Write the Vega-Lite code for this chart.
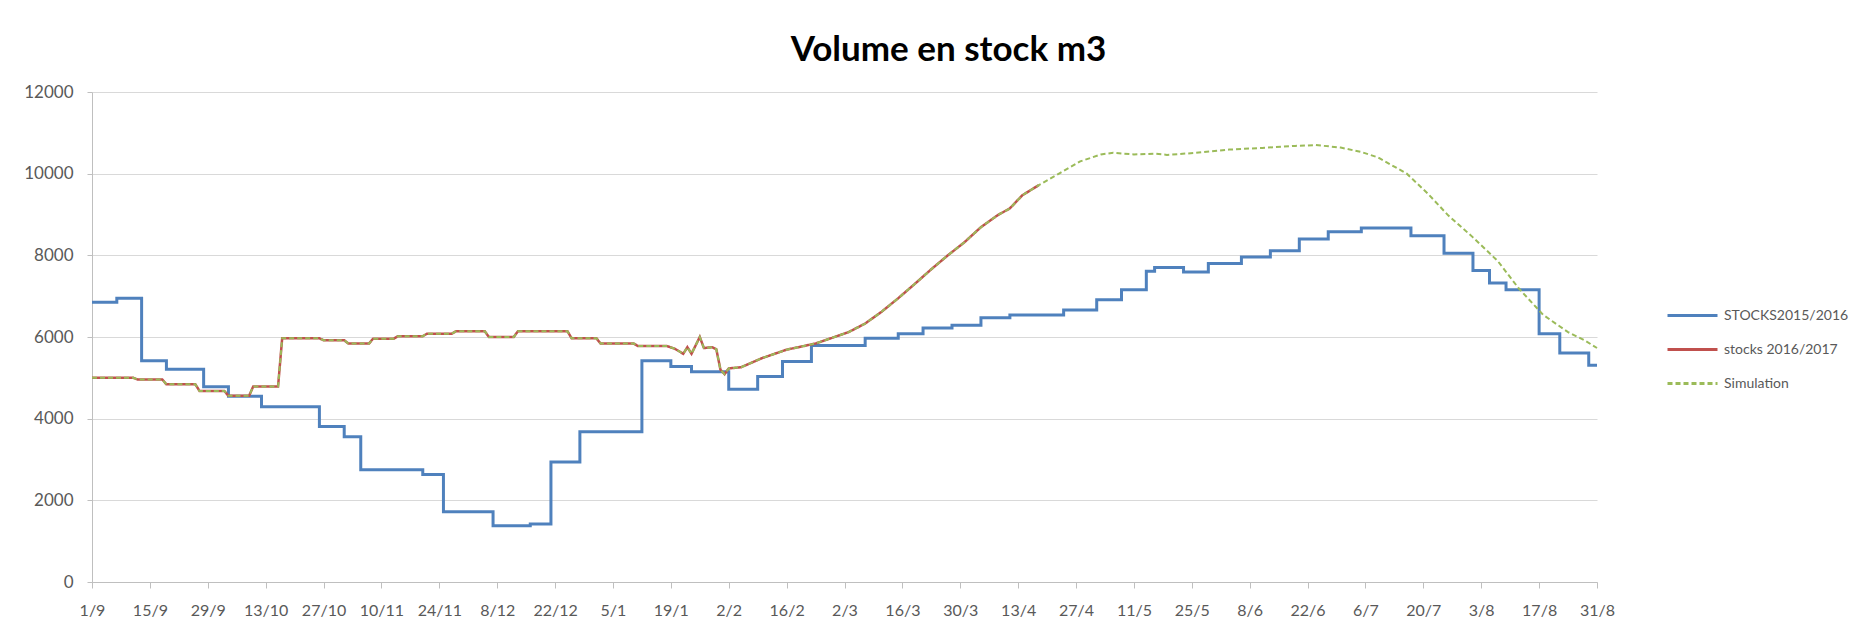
{
  "$schema": "https://vega.github.io/schema/vega-lite/v6.json",
  "width": 1505,
  "height": 490,
  "autosize": {"type": "none"},
  "padding": {"left": 92, "top": 92, "right": 259, "bottom": 46},
  "background": "white",
  "title": {"text": "Volume en stock m3", "font": "Lato", "fontSize": 35, "fontWeight": "bold", "color": "#000000", "anchor": "middle", "dx": 104, "offset": 15},
  "config": {"view": {"stroke": null}},
  "data": {"values": [
    {"date": "2016-09-01", "series": "STOCKS2015/2016", "value": 6850},
    {"date": "2016-09-07", "series": "STOCKS2015/2016", "value": 6950},
    {"date": "2016-09-13", "series": "STOCKS2015/2016", "value": 5420},
    {"date": "2016-09-19", "series": "STOCKS2015/2016", "value": 5210},
    {"date": "2016-09-28", "series": "STOCKS2015/2016", "value": 4780},
    {"date": "2016-10-04", "series": "STOCKS2015/2016", "value": 4550},
    {"date": "2016-10-12", "series": "STOCKS2015/2016", "value": 4290},
    {"date": "2016-10-26", "series": "STOCKS2015/2016", "value": 3810},
    {"date": "2016-11-01", "series": "STOCKS2015/2016", "value": 3560},
    {"date": "2016-11-05", "series": "STOCKS2015/2016", "value": 2750},
    {"date": "2016-11-20", "series": "STOCKS2015/2016", "value": 2630},
    {"date": "2016-11-25", "series": "STOCKS2015/2016", "value": 1720},
    {"date": "2016-12-07", "series": "STOCKS2015/2016", "value": 1380},
    {"date": "2016-12-16", "series": "STOCKS2015/2016", "value": 1420},
    {"date": "2016-12-21", "series": "STOCKS2015/2016", "value": 2940},
    {"date": "2016-12-28", "series": "STOCKS2015/2016", "value": 3680},
    {"date": "2017-01-12", "series": "STOCKS2015/2016", "value": 5420},
    {"date": "2017-01-19", "series": "STOCKS2015/2016", "value": 5280},
    {"date": "2017-01-24", "series": "STOCKS2015/2016", "value": 5150},
    {"date": "2017-02-02", "series": "STOCKS2015/2016", "value": 4720},
    {"date": "2017-02-09", "series": "STOCKS2015/2016", "value": 5030},
    {"date": "2017-02-15", "series": "STOCKS2015/2016", "value": 5400},
    {"date": "2017-02-22", "series": "STOCKS2015/2016", "value": 5790},
    {"date": "2017-03-07", "series": "STOCKS2015/2016", "value": 5970},
    {"date": "2017-03-15", "series": "STOCKS2015/2016", "value": 6080},
    {"date": "2017-03-21", "series": "STOCKS2015/2016", "value": 6220},
    {"date": "2017-03-28", "series": "STOCKS2015/2016", "value": 6290},
    {"date": "2017-04-04", "series": "STOCKS2015/2016", "value": 6470},
    {"date": "2017-04-11", "series": "STOCKS2015/2016", "value": 6540},
    {"date": "2017-04-24", "series": "STOCKS2015/2016", "value": 6660},
    {"date": "2017-05-02", "series": "STOCKS2015/2016", "value": 6910},
    {"date": "2017-05-08", "series": "STOCKS2015/2016", "value": 7160},
    {"date": "2017-05-14", "series": "STOCKS2015/2016", "value": 7610},
    {"date": "2017-05-16", "series": "STOCKS2015/2016", "value": 7700},
    {"date": "2017-05-23", "series": "STOCKS2015/2016", "value": 7590},
    {"date": "2017-05-29", "series": "STOCKS2015/2016", "value": 7800},
    {"date": "2017-06-06", "series": "STOCKS2015/2016", "value": 7960},
    {"date": "2017-06-13", "series": "STOCKS2015/2016", "value": 8110},
    {"date": "2017-06-20", "series": "STOCKS2015/2016", "value": 8400},
    {"date": "2017-06-27", "series": "STOCKS2015/2016", "value": 8580},
    {"date": "2017-07-05", "series": "STOCKS2015/2016", "value": 8670},
    {"date": "2017-07-17", "series": "STOCKS2015/2016", "value": 8480},
    {"date": "2017-07-25", "series": "STOCKS2015/2016", "value": 8050},
    {"date": "2017-08-01", "series": "STOCKS2015/2016", "value": 7630},
    {"date": "2017-08-05", "series": "STOCKS2015/2016", "value": 7320},
    {"date": "2017-08-09", "series": "STOCKS2015/2016", "value": 7160},
    {"date": "2017-08-17", "series": "STOCKS2015/2016", "value": 6080},
    {"date": "2017-08-22", "series": "STOCKS2015/2016", "value": 5610},
    {"date": "2017-08-29", "series": "STOCKS2015/2016", "value": 5310},
    {"date": "2017-08-31", "series": "STOCKS2015/2016", "value": 5310},

    {"date": "2016-09-01", "series": "stocks 2016/2017", "value": 5000},
    {"date": "2016-09-11", "series": "stocks 2016/2017", "value": 5000},
    {"date": "2016-09-12", "series": "stocks 2016/2017", "value": 4960},
    {"date": "2016-09-18", "series": "stocks 2016/2017", "value": 4960},
    {"date": "2016-09-19", "series": "stocks 2016/2017", "value": 4840},
    {"date": "2016-09-26", "series": "stocks 2016/2017", "value": 4840},
    {"date": "2016-09-27", "series": "stocks 2016/2017", "value": 4680},
    {"date": "2016-10-03", "series": "stocks 2016/2017", "value": 4680},
    {"date": "2016-10-04", "series": "stocks 2016/2017", "value": 4560},
    {"date": "2016-10-09", "series": "stocks 2016/2017", "value": 4560},
    {"date": "2016-10-10", "series": "stocks 2016/2017", "value": 4790},
    {"date": "2016-10-16", "series": "stocks 2016/2017", "value": 4790},
    {"date": "2016-10-17", "series": "stocks 2016/2017", "value": 5970},
    {"date": "2016-10-26", "series": "stocks 2016/2017", "value": 5970},
    {"date": "2016-10-27", "series": "stocks 2016/2017", "value": 5920},
    {"date": "2016-11-01", "series": "stocks 2016/2017", "value": 5920},
    {"date": "2016-11-02", "series": "stocks 2016/2017", "value": 5840},
    {"date": "2016-11-07", "series": "stocks 2016/2017", "value": 5840},
    {"date": "2016-11-08", "series": "stocks 2016/2017", "value": 5960},
    {"date": "2016-11-13", "series": "stocks 2016/2017", "value": 5960},
    {"date": "2016-11-14", "series": "stocks 2016/2017", "value": 6020},
    {"date": "2016-11-20", "series": "stocks 2016/2017", "value": 6020},
    {"date": "2016-11-21", "series": "stocks 2016/2017", "value": 6080},
    {"date": "2016-11-27", "series": "stocks 2016/2017", "value": 6080},
    {"date": "2016-11-28", "series": "stocks 2016/2017", "value": 6140},
    {"date": "2016-12-05", "series": "stocks 2016/2017", "value": 6140},
    {"date": "2016-12-06", "series": "stocks 2016/2017", "value": 6000},
    {"date": "2016-12-12", "series": "stocks 2016/2017", "value": 6000},
    {"date": "2016-12-13", "series": "stocks 2016/2017", "value": 6140},
    {"date": "2016-12-25", "series": "stocks 2016/2017", "value": 6140},
    {"date": "2016-12-26", "series": "stocks 2016/2017", "value": 5970},
    {"date": "2017-01-01", "series": "stocks 2016/2017", "value": 5970},
    {"date": "2017-01-02", "series": "stocks 2016/2017", "value": 5840},
    {"date": "2017-01-10", "series": "stocks 2016/2017", "value": 5840},
    {"date": "2017-01-11", "series": "stocks 2016/2017", "value": 5780},
    {"date": "2017-01-18", "series": "stocks 2016/2017", "value": 5780},
    {"date": "2017-01-20", "series": "stocks 2016/2017", "value": 5710},
    {"date": "2017-01-22", "series": "stocks 2016/2017", "value": 5590},
    {"date": "2017-01-23", "series": "stocks 2016/2017", "value": 5750},
    {"date": "2017-01-24", "series": "stocks 2016/2017", "value": 5590},
    {"date": "2017-01-26", "series": "stocks 2016/2017", "value": 6000},
    {"date": "2017-01-27", "series": "stocks 2016/2017", "value": 5730},
    {"date": "2017-01-29", "series": "stocks 2016/2017", "value": 5750},
    {"date": "2017-01-30", "series": "stocks 2016/2017", "value": 5700},
    {"date": "2017-01-31", "series": "stocks 2016/2017", "value": 5200},
    {"date": "2017-02-01", "series": "stocks 2016/2017", "value": 5090},
    {"date": "2017-02-02", "series": "stocks 2016/2017", "value": 5230},
    {"date": "2017-02-05", "series": "stocks 2016/2017", "value": 5260},
    {"date": "2017-02-10", "series": "stocks 2016/2017", "value": 5480},
    {"date": "2017-02-16", "series": "stocks 2016/2017", "value": 5690},
    {"date": "2017-02-23", "series": "stocks 2016/2017", "value": 5840},
    {"date": "2017-02-27", "series": "stocks 2016/2017", "value": 5980},
    {"date": "2017-03-03", "series": "stocks 2016/2017", "value": 6120},
    {"date": "2017-03-07", "series": "stocks 2016/2017", "value": 6330},
    {"date": "2017-03-11", "series": "stocks 2016/2017", "value": 6620},
    {"date": "2017-03-15", "series": "stocks 2016/2017", "value": 6950},
    {"date": "2017-03-19", "series": "stocks 2016/2017", "value": 7300},
    {"date": "2017-03-23", "series": "stocks 2016/2017", "value": 7660},
    {"date": "2017-03-27", "series": "stocks 2016/2017", "value": 8000},
    {"date": "2017-03-31", "series": "stocks 2016/2017", "value": 8320},
    {"date": "2017-04-04", "series": "stocks 2016/2017", "value": 8690},
    {"date": "2017-04-08", "series": "stocks 2016/2017", "value": 8980},
    {"date": "2017-04-11", "series": "stocks 2016/2017", "value": 9150},
    {"date": "2017-04-14", "series": "stocks 2016/2017", "value": 9470},
    {"date": "2017-04-18", "series": "stocks 2016/2017", "value": 9720},

    {"date": "2016-09-01", "series": "Simulation", "value": 5000},
    {"date": "2016-09-11", "series": "Simulation", "value": 5000},
    {"date": "2016-09-12", "series": "Simulation", "value": 4960},
    {"date": "2016-09-18", "series": "Simulation", "value": 4960},
    {"date": "2016-09-19", "series": "Simulation", "value": 4840},
    {"date": "2016-09-26", "series": "Simulation", "value": 4840},
    {"date": "2016-09-27", "series": "Simulation", "value": 4680},
    {"date": "2016-10-03", "series": "Simulation", "value": 4680},
    {"date": "2016-10-04", "series": "Simulation", "value": 4560},
    {"date": "2016-10-09", "series": "Simulation", "value": 4560},
    {"date": "2016-10-10", "series": "Simulation", "value": 4790},
    {"date": "2016-10-16", "series": "Simulation", "value": 4790},
    {"date": "2016-10-17", "series": "Simulation", "value": 5970},
    {"date": "2016-10-26", "series": "Simulation", "value": 5970},
    {"date": "2016-10-27", "series": "Simulation", "value": 5920},
    {"date": "2016-11-01", "series": "Simulation", "value": 5920},
    {"date": "2016-11-02", "series": "Simulation", "value": 5840},
    {"date": "2016-11-07", "series": "Simulation", "value": 5840},
    {"date": "2016-11-08", "series": "Simulation", "value": 5960},
    {"date": "2016-11-13", "series": "Simulation", "value": 5960},
    {"date": "2016-11-14", "series": "Simulation", "value": 6020},
    {"date": "2016-11-20", "series": "Simulation", "value": 6020},
    {"date": "2016-11-21", "series": "Simulation", "value": 6080},
    {"date": "2016-11-27", "series": "Simulation", "value": 6080},
    {"date": "2016-11-28", "series": "Simulation", "value": 6140},
    {"date": "2016-12-05", "series": "Simulation", "value": 6140},
    {"date": "2016-12-06", "series": "Simulation", "value": 6000},
    {"date": "2016-12-12", "series": "Simulation", "value": 6000},
    {"date": "2016-12-13", "series": "Simulation", "value": 6140},
    {"date": "2016-12-25", "series": "Simulation", "value": 6140},
    {"date": "2016-12-26", "series": "Simulation", "value": 5970},
    {"date": "2017-01-01", "series": "Simulation", "value": 5970},
    {"date": "2017-01-02", "series": "Simulation", "value": 5840},
    {"date": "2017-01-10", "series": "Simulation", "value": 5840},
    {"date": "2017-01-11", "series": "Simulation", "value": 5780},
    {"date": "2017-01-18", "series": "Simulation", "value": 5780},
    {"date": "2017-01-20", "series": "Simulation", "value": 5710},
    {"date": "2017-01-22", "series": "Simulation", "value": 5590},
    {"date": "2017-01-23", "series": "Simulation", "value": 5750},
    {"date": "2017-01-24", "series": "Simulation", "value": 5590},
    {"date": "2017-01-26", "series": "Simulation", "value": 6000},
    {"date": "2017-01-27", "series": "Simulation", "value": 5730},
    {"date": "2017-01-29", "series": "Simulation", "value": 5750},
    {"date": "2017-01-30", "series": "Simulation", "value": 5700},
    {"date": "2017-01-31", "series": "Simulation", "value": 5200},
    {"date": "2017-02-01", "series": "Simulation", "value": 5090},
    {"date": "2017-02-02", "series": "Simulation", "value": 5230},
    {"date": "2017-02-05", "series": "Simulation", "value": 5260},
    {"date": "2017-02-10", "series": "Simulation", "value": 5480},
    {"date": "2017-02-16", "series": "Simulation", "value": 5690},
    {"date": "2017-02-23", "series": "Simulation", "value": 5840},
    {"date": "2017-02-27", "series": "Simulation", "value": 5980},
    {"date": "2017-03-03", "series": "Simulation", "value": 6120},
    {"date": "2017-03-07", "series": "Simulation", "value": 6330},
    {"date": "2017-03-11", "series": "Simulation", "value": 6620},
    {"date": "2017-03-15", "series": "Simulation", "value": 6950},
    {"date": "2017-03-19", "series": "Simulation", "value": 7300},
    {"date": "2017-03-23", "series": "Simulation", "value": 7660},
    {"date": "2017-03-27", "series": "Simulation", "value": 8000},
    {"date": "2017-03-31", "series": "Simulation", "value": 8320},
    {"date": "2017-04-04", "series": "Simulation", "value": 8690},
    {"date": "2017-04-08", "series": "Simulation", "value": 8980},
    {"date": "2017-04-11", "series": "Simulation", "value": 9150},
    {"date": "2017-04-14", "series": "Simulation", "value": 9470},
    {"date": "2017-04-18", "series": "Simulation", "value": 9720},
    {"date": "2017-04-23", "series": "Simulation", "value": 10010},
    {"date": "2017-04-28", "series": "Simulation", "value": 10300},
    {"date": "2017-05-03", "series": "Simulation", "value": 10470},
    {"date": "2017-05-06", "series": "Simulation", "value": 10510},
    {"date": "2017-05-11", "series": "Simulation", "value": 10470},
    {"date": "2017-05-16", "series": "Simulation", "value": 10490},
    {"date": "2017-05-19", "series": "Simulation", "value": 10460},
    {"date": "2017-05-26", "series": "Simulation", "value": 10510},
    {"date": "2017-06-03", "series": "Simulation", "value": 10590},
    {"date": "2017-06-11", "series": "Simulation", "value": 10630},
    {"date": "2017-06-19", "series": "Simulation", "value": 10680},
    {"date": "2017-06-24", "series": "Simulation", "value": 10700},
    {"date": "2017-06-30", "series": "Simulation", "value": 10640},
    {"date": "2017-07-05", "series": "Simulation", "value": 10530},
    {"date": "2017-07-09", "series": "Simulation", "value": 10400},
    {"date": "2017-07-16", "series": "Simulation", "value": 10000},
    {"date": "2017-07-21", "series": "Simulation", "value": 9520},
    {"date": "2017-07-26", "series": "Simulation", "value": 8980},
    {"date": "2017-08-01", "series": "Simulation", "value": 8440},
    {"date": "2017-08-07", "series": "Simulation", "value": 7860},
    {"date": "2017-08-12", "series": "Simulation", "value": 7200},
    {"date": "2017-08-18", "series": "Simulation", "value": 6540},
    {"date": "2017-08-24", "series": "Simulation", "value": 6120},
    {"date": "2017-08-28", "series": "Simulation", "value": 5920},
    {"date": "2017-08-31", "series": "Simulation", "value": 5730}
  ]},
  "encoding": {
    "x": {
      "field": "date", "type": "temporal",
      "scale": {"type": "utc", "domain": [1472688000000, 1504137600000], "nice": false},
      "axis": {
        "title": null, "grid": false,
        "values": [1472688000000, 1473897600000, 1475107200000, 1476316800000, 1477526400000, 1478736000000, 1479945600000, 1481155200000, 1482364800000, 1483574400000, 1484784000000, 1485993600000, 1487203200000, 1488412800000, 1489622400000, 1490832000000, 1492041600000, 1493251200000, 1494460800000, 1495670400000, 1496880000000, 1498089600000, 1499299200000, 1500508800000, 1501718400000, 1502928000000, 1504137600000],
        "format": "%-d/%-m", "labelFlush": false, "labelOverlap": false,
        "labelFont": "Lato", "labelFontSize": 16, "labelColor": "#595959",
        "domainColor": "#BFBFBF", "tickColor": "#BFBFBF", "tickSize": 6, "labelPadding": 14
      }
    },
    "y": {
      "field": "value", "type": "quantitative",
      "scale": {"domain": [0, 12000], "nice": false, "zero": true},
      "axis": {
        "title": null, "values": [0, 2000, 4000, 6000, 8000, 10000, 12000], "format": "d",
        "grid": true, "gridColor": "#D9D9D9", "gridWidth": 1,
        "domainColor": "#BFBFBF", "tickColor": "#BFBFBF", "tickSize": 5, "labelPadding": 14,
        "labelFont": "Lato", "labelFontSize": 17, "labelColor": "#595959"
      }
    },
    "color": {
      "field": "series", "type": "nominal",
      "scale": {"domain": ["STOCKS2015/2016", "stocks 2016/2017", "Simulation"], "range": ["#4F81BD", "#C0504D", "#9BBB59"]},
      "legend": {
        "title": null, "orient": "none", "legendX": 1574, "legendY": 197,
        "symbolType": "stroke", "symbolSize": 2500, "symbolStrokeWidth": 3,
        "rowPadding": -15, "labelOffset": 5,
        "labelFont": "Lato", "labelFontSize": 14, "labelColor": "#595959"
      }
    },
    "strokeDash": {
      "field": "series", "type": "nominal",
      "scale": {"domain": ["STOCKS2015/2016", "stocks 2016/2017", "Simulation"], "range": [[1, 0], [1, 0], [5, 3]]},
      "legend": {
        "title": null, "orient": "none", "legendX": 1574, "legendY": 197,
        "symbolType": "stroke", "symbolSize": 2500, "symbolStrokeWidth": 3,
        "rowPadding": -15, "labelOffset": 5,
        "labelFont": "Lato", "labelFontSize": 14, "labelColor": "#595959"
      }
    }
  },
  "layer": [
    {"transform": [{"filter": "datum.series === 'STOCKS2015/2016'"}], "mark": {"type": "line", "interpolate": "step-after", "strokeWidth": 3}},
    {"transform": [{"filter": "datum.series === 'stocks 2016/2017'"}], "mark": {"type": "line", "strokeWidth": 2.5}},
    {"transform": [{"filter": "datum.series === 'Simulation'"}], "mark": {"type": "line", "strokeWidth": 2}}
  ]
}
